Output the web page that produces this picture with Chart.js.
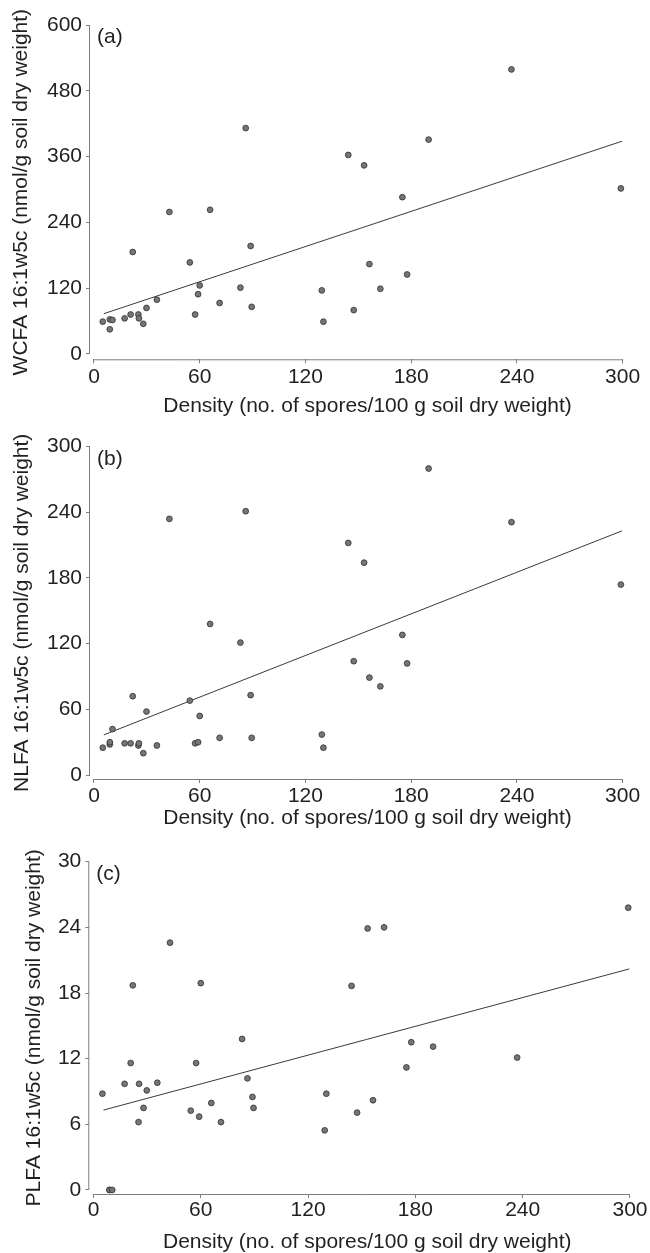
<!DOCTYPE html>
<html>
<head>
<meta charset="utf-8">
<script src="https://cdn.jsdelivr.net/npm/chart.js@4.4.1/dist/chart.umd.min.js"></script>
<style>
    html, body { margin: 0; padding: 0; background: #fff; }
    #wrap { position: relative; width: 650px; height: 1253px; }
    canvas { position: absolute; left: 0; }
</style>
</head>
<body>
<div id="wrap">
    <canvas id="panelA" width="650" height="430" style="top:0px"></canvas>
    <canvas id="panelB" width="650" height="410" style="top:430px"></canvas>
    <canvas id="panelC" width="650" height="413" style="top:840px"></canvas>
</div>
<script>
// spore density, shared by the three panels
const density = [5, 9, 9, 10.5, 17.4, 20.8, 22, 25.2, 25.5, 28, 29.8, 35.7, 42.8, 54.4, 57.4, 59.1, 60, 65.9, 71.3, 83.1, 86.1, 88.9, 89.5, 129.3, 130.2, 144.3, 147.4, 153.3, 156.3, 162.5, 175, 177.7, 189.9, 236.9, 299];
const wcfa = [59, 63, 45, 62, 65, 72, 186, 72, 65, 55, 84, 99, 259, 167, 72, 109, 125, 263, 93, 121, 412, 197, 86, 116, 59, 363, 80, 344, 164, 119, 286, 145, 391, 519, 302];
const nlfa = [25, 28, 30, 42, 29, 29, 72, 27, 29, 20, 58, 27, 234, 68, 29, 30, 54, 138, 34, 121, 241, 73, 34, 37, 25, 212, 104, 194, 89, 81, 128, 102, 280, 231, 174];
const plfa = [8.8, 0, 0, 0, 9.7, 11.6, 18.7, 6.2, 9.7, 7.5, 9.1, 9.8, 22.6, 7.25, 11.6, 6.7, 18.9, 7.95, 6.2, 13.8, 10.2, 8.5, 7.5, 5.45, 8.8, 18.65, 7.07, 23.9, 8.2, 24.0, 11.2, 13.5, 13.1, 12.1, 25.8];

// fitted lines (end points)
const fitX = [5.6, 299.6];
const fitWcfa = [73.5, 388];
const fitNlfa = [36.7, 223];
const fitPlfa = [7.3, 20.2];

const xTicks = [0, 60, 120, 180, 240, 300];
const wcfaTicks = [0, 120, 240, 360, 480, 600];
const nlfaTicks = [0, 60, 120, 180, 240, 300];
const plfaTicks = [0, 6, 12, 18, 24, 30];

const xTitle = 'Density (no. of spores/100 g soil dry weight)';
const FONT = "'Liberation Sans', Arial, Helvetica, sans-serif";
const TEXT = '#231f20';
const AXIS = '#7d7d7d';

Chart.defaults.font.family = FONT;
Chart.defaults.color = TEXT;

// R style axes: lines only from first to last tick, and the panel letter
const axisFrame = {
    id: 'axisFrame',
    afterDatasetsDraw(chart, args, opts) {
        const {ctx, chartArea, scales} = chart;
        const x = scales.x, y = scales.y;
        const xt = x.ticks, yt = y.ticks;
        ctx.save();
        ctx.strokeStyle = AXIS;
        ctx.lineWidth = 1;
        ctx.beginPath();
        ctx.moveTo(chartArea.left - 0.5, y.getPixelForValue(yt[yt.length - 1].value));
        ctx.lineTo(chartArea.left - 0.5, y.getPixelForValue(yt[0].value));
        ctx.moveTo(x.getPixelForValue(xt[0].value), chartArea.bottom + 0.5);
        ctx.lineTo(x.getPixelForValue(xt[xt.length - 1].value), chartArea.bottom + 0.5);
        ctx.stroke();
        ctx.fillStyle = TEXT;
        ctx.font = '21px ' + FONT;
        ctx.textBaseline = 'middle';
        ctx.textAlign = 'left';
        ctx.fillText(opts.letter, chartArea.left + 7, chartArea.top + 12.5);
        ctx.restore();
    }
};

function makePanel(id, p) {
    const points = density.map((d, i) => ({x: d, y: p.values[i]}));
    const fit = fitX.map((d, i) => ({x: d, y: p.fit[i]}));
    return new Chart(document.getElementById(id), {
        type: 'scatter',
        data: {
            datasets: [{
                data: points,
                pointRadius: 2.9,
                pointBackgroundColor: '#767676',
                pointBorderColor: '#2e2e2e',
                pointBorderWidth: 0.8
            }, {
                data: fit,
                showLine: true,
                pointRadius: 0,
                borderColor: '#3a3a3a',
                borderWidth: 1
            }]
        },
        options: {
            responsive: false,
            animation: false,
            layout: { padding: { top: p.padTop, left: 0, right: 0, bottom: 0 } },
            plugins: {
                legend: { display: false },
                tooltip: { enabled: false },
                axisFrame: { letter: p.letter }
            },
            scales: {
                x: {
                    type: 'linear',
                    min: p.xMin,
                    max: p.xMax,
                    afterBuildTicks: s => { s.ticks = xTicks.map(v => ({value: v})); },
                    afterFit: s => { s.height = p.xHeight; },
                    border: { display: false },
                    grid: { drawOnChartArea: false, drawTicks: true, tickLength: 4, color: AXIS },
                    ticks: { font: { size: 21 }, padding: p.xTickPad, maxRotation: 0, color: TEXT },
                    title: { display: true, text: xTitle, font: { size: 21 }, color: TEXT, padding: { top: 0, bottom: p.xTitlePad } }
                },
                y: {
                    type: 'linear',
                    min: p.yMin,
                    max: p.yTicks[p.yTicks.length - 1],
                    afterBuildTicks: s => { s.ticks = p.yTicks.map(v => ({value: v})); },
                    afterFit: s => { s.width = p.yWidth; },
                    border: { display: false },
                    grid: { drawOnChartArea: false, drawTicks: true, tickLength: 4, color: AXIS },
                    ticks: { font: { size: 21 }, padding: 4, color: TEXT },
                    title: { display: true, text: p.yTitle, font: { size: 21 }, color: TEXT, padding: { top: p.yTitlePad, bottom: 0 } }
                }
            }
        },
        plugins: [axisFrame]
    });
}

makePanel('panelA', {
    values: wcfa, fit: fitWcfa, yTicks: wcfaTicks, letter: '(a)',
    yTitle: 'WCFA 16:1w5c (nmol/g soil dry weight)',
    xMin: -2.25, xMax: 312.8, yMin: -9.7,
    padTop: 25, xHeight: 70.7, yWidth: 90,
    xTickPad: 1.5, xTitlePad: 10.9, yTitlePad: 8.7
});

makePanel('panelB', {
    values: nlfa, fit: fitNlfa, yTicks: nlfaTicks, letter: '(b)',
    yTitle: 'NLFA 16:1w5c (nmol/g soil dry weight)',
    xMin: -2.25, xMax: 312.8, yMin: -3.6,
    padTop: 12.7, xHeight: 61, yWidth: 90,
    xTickPad: 1, xTitlePad: 9.4, yTitlePad: 9.5
});

makePanel('panelC', {
    values: plfa, fit: fitPlfa, yTicks: plfaTicks, letter: '(c)',
    yTitle: 'PLFA 16:1w5c (nmol/g soil dry weight)',
    xMin: -2.33, xMax: 308.5, yMin: -0.37,
    padTop: 21.7, xHeight: 59, yWidth: 89.3,
    xTickPad: 0, xTitlePad: -1.6, yTitlePad: 22
});
</script>
</body>
</html>
